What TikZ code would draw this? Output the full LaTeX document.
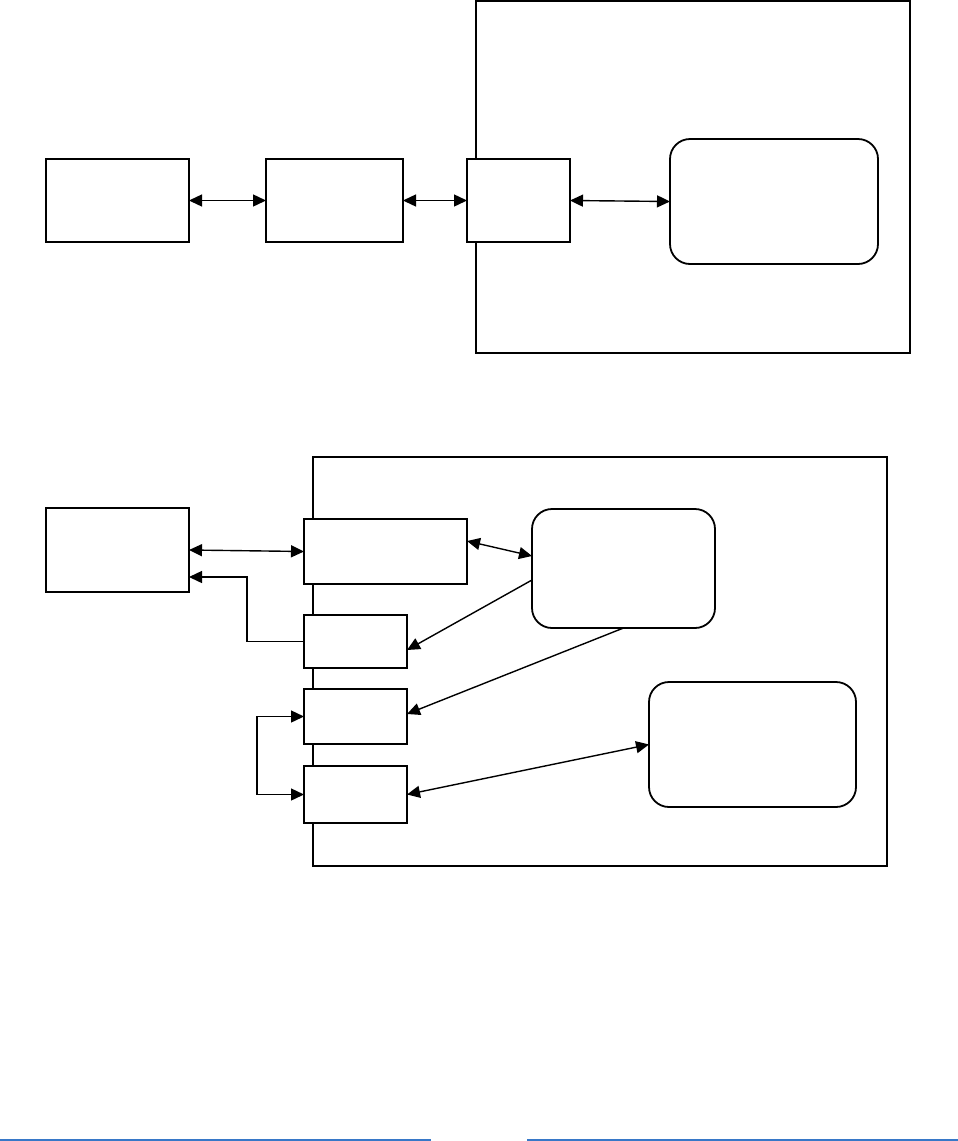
\documentclass[tikz,border=0pt]{standalone}
\usetikzlibrary{arrows.meta}
\definecolor{rulecol}{RGB}{55,120,200}
\tikzset{
  frame/.style={draw=black, line width=1.8pt, inner sep=0pt, outer sep=0pt},
  box/.style={draw=black, fill=white, line width=1.8pt, inner sep=0pt, outer sep=0pt},
  rbox/.style={box, rounded corners=20pt},
  conn/.style={draw=black, line width=1.4pt},
  tip/.style={-{Triangle[length=13pt,width=12pt]}},
  tips/.style={{Triangle[length=13pt,width=12pt]}-{Triangle[length=13pt,width=12pt]}},
  blueline/.style={draw=rulecol, line width=2pt}
}
\begin{document}
\begin{tikzpicture}[x=1pt,y=-1pt]
\useasboundingbox (0,0) rectangle (958,1141);
% top part
\node[frame, minimum width=434pt, minimum height=352pt] (T) at (693,177) {};
\node[box, minimum width=143pt, minimum height=83pt] (A) at (117.5,200.5) {};
\node[box, minimum width=137pt, minimum height=83pt] (B) at (334.5,200.5) {};
\node[box, minimum width=103pt, minimum height=83pt] (C) at (518.5,200.5) {};
\node[rbox, minimum width=208pt, minimum height=125pt] (D) at (774,201.5) {};
\draw[conn, tips] (A) -- (B);
\draw[conn, tips] (B) -- (C);
\draw[conn, tips] (C.east) -- (D.west);
% bottom part
\node[frame, minimum width=574pt, minimum height=409pt] (S) at (600,661.5) {};
\node[box, minimum width=143pt, minimum height=84pt] (E) at (117.5,550) {};
\node[box, minimum width=163pt, minimum height=65pt] (F) at (385.5,551.5) {};
\node[box, minimum width=103pt, minimum height=53pt] (G) at (355.5,641.5) {};
\node[box, minimum width=103pt, minimum height=55pt] (H) at (355.5,716.5) {};
\node[box, minimum width=103pt, minimum height=57pt] (I) at (355.5,794.5) {};
\node[rbox, minimum width=183pt, minimum height=119pt] (J) at (623.5,568.5) {};
\node[rbox, minimum width=207pt, minimum height=125pt] (K) at (752.5,744.5) {};
\draw[conn, tips] (E.east) -- (F.west);
\draw[conn, tip] (G.west) -- ++(-57,0) |- ([yshift=-27pt]E.east);
\draw[conn, tips] ([yshift=10.5pt]F.east) -- ([yshift=12.5pt]J.west);
\draw[conn, tip] ([yshift=-11.5pt]J.west) -- ([yshift=-8.5pt]G.east);
\draw[conn, tip] (J.south) -- ([yshift=2.5pt]H.east);
\draw[conn, tips] (H.west) -- ++(-47,0) |- (I.west);
\draw[conn, tips] (I.east) -- (K.west);
% blue rules at the bottom
\coordinate (r1) at (0,1139.5);
\coordinate (r2) at (431,1139.5);
\coordinate (r3) at (527,1139.5);
\coordinate (r4) at (958,1139.5);
\draw[blueline] (r1) -- (r2);
\draw[blueline] (r3) -- (r4);
\end{tikzpicture}
\end{document}
